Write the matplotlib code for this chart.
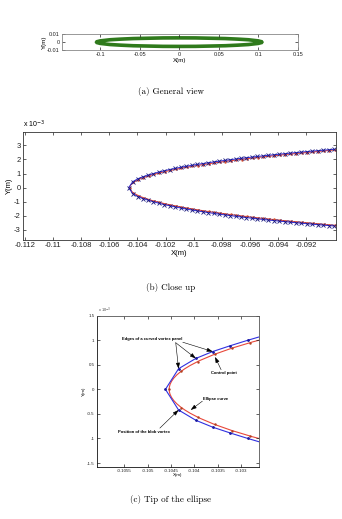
import numpy as np
import matplotlib
matplotlib.use('Agg')
import matplotlib.pyplot as plt
from matplotlib.patches import Ellipse
from matplotlib.ticker import FuncFormatter


# ellipse, metres
ELL_A = 0.10454
ELL_B = 0.00525

# panel edges, upper half (x in m, y in 1e-3 m)
edge_x = [-0.10462, -0.10434, -0.10397, -0.10361, -0.10323, -0.10286, -0.10248, -0.10209,
          -0.10170, -0.10131, -0.10092, -0.10053, -0.10014, -0.09975, -0.09936, -0.09897,
          -0.09858, -0.09819, -0.09780, -0.09741, -0.09702, -0.09663, -0.09624, -0.09585,
          -0.09546, -0.09507, -0.09468, -0.09429, -0.09390, -0.09351, -0.09312, -0.09273,
          -0.09234, -0.09195, -0.09156, -0.09117, -0.09078, -0.09039, -0.09000]
edge_y = [0.0, 0.42, 0.63, 0.77, 0.89, 1.00, 1.106, 1.200,
          1.287, 1.368, 1.443, 1.515, 1.582, 1.647, 1.708, 1.767,
          1.824, 1.877, 1.930, 1.981, 2.030, 2.077, 2.124, 2.168,
          2.212, 2.254, 2.295, 2.335, 2.374, 2.412, 2.450, 2.487,
          2.522, 2.557, 2.591, 2.624, 2.657, 2.688, 2.720]

# control points on the ellipse, upper half
ctrl_x = [-0.10454, -0.10429, -0.10393, -0.10357, -0.10319, -0.10282, -0.10244, -0.10205,
          -0.10166, -0.10127, -0.10088, -0.10049, -0.10010, -0.09971, -0.09932, -0.09893,
          -0.09854, -0.09815, -0.09776, -0.09737, -0.09698, -0.09659, -0.09620, -0.09581,
          -0.09542, -0.09503, -0.09464, -0.09425, -0.09386, -0.09347, -0.09308, -0.09269,
          -0.09230, -0.09191, -0.09152, -0.09113, -0.09074, -0.09035, -0.08996]
ctrl_y = [0.0, 0.37, 0.56, 0.71, 0.84, 0.94, 1.046, 1.136,
          1.220, 1.298, 1.371, 1.439, 1.504, 1.568, 1.628, 1.686,
          1.742, 1.794, 1.847, 1.898, 1.947, 1.994, 2.041, 2.083,
          2.128, 2.171, 2.212, 2.253, 2.293, 2.332, 2.372, 2.410,
          2.446, 2.483, 2.516, 2.551, 2.585, 2.618, 2.652]

a_xticks = [-0.1, -0.05, 0, 0.05, 0.1, 0.15]
a_yticks = [-0.01, 0, 0.01]
b_xticks = [-0.112, -0.11, -0.108, -0.106, -0.104, -0.102, -0.1, -0.098, -0.096, -0.094, -0.092]
b_yticks = [-3, -2, -1, 0, 1, 2, 3]
c_xticks = [-0.1055, -0.105, -0.1045, -0.104, -0.1035, -0.103]
c_yticks = [-1.5, -1, -0.5, 0, 0.5, 1, 1.5]


def full_curve(xs, ys):
    # upper half mirrored into the lower half
    x = np.concatenate([np.array(xs)[::-1], np.array(xs)[1:]])
    y = np.concatenate([np.array(ys)[::-1], -np.array(ys)[1:]]) * 1e-3
    return x, y


def style_axes(ax, fs, col='#333333'):
    for s in ax.spines.values():
        s.set_color(col)
        s.set_linewidth(0.6)
    ax.tick_params(direction='in', length=2, width=0.5, labelsize=fs, colors='#222222',
                   top=True, right=True, pad=1.5)


def main():
    plt.rcParams['font.family'] = ['Liberation Sans', 'DejaVu Sans']
    plt.rcParams['mathtext.fontset'] = 'dejavusans'

    fig = plt.figure(figsize=(3.42, 5.19), dpi=100)

    ex, ey = full_curve(edge_x, edge_y)
    cx, cy = full_curve(ctrl_x, ctrl_y)

    ## (a) general view
    ax1 = fig.add_axes([0.1813, 0.9031, 0.6892, 0.0314])
    ax1.add_patch(Ellipse((0, 0), 2 * ELL_A, 2 * ELL_B, fill=False,
                          edgecolor='#2f7a1c', linewidth=2.6))
    ax1.set_xlim(-0.1484, 0.15)
    ax1.set_ylim(-0.01, 0.01)
    ax1.set_xticks(a_xticks)
    ax1.set_xticklabels(['-0.1', '-0.05', '0', '0.05', '0.1', '0.15'])
    ax1.set_yticks(a_yticks)
    ax1.set_yticklabels(['-0.01', '0', '0.01'])
    style_axes(ax1, 4, '#888888')
    ax1.set_xlabel('X(m)', fontsize=4.5, labelpad=0.5)
    ax1.set_ylabel('Y(m)', fontsize=4.5, labelpad=0.5)

    ## (b) close up
    ax2 = fig.add_axes([0.0664, 0.5376, 0.9161, 0.2087])
    ax2.add_patch(Ellipse((0, 0), 2 * ELL_A, 2 * ELL_B, fill=False,
                          edgecolor='#e8483a', linewidth=0.8))
    ax2.plot(cx, cy, '.', color='#d9502e', markersize=1.5)
    ax2.plot(ex, ey, '-', color='#2a2ad8', linewidth=0.7)
    ax2.plot(ex, ey, 'x', color='#1a1a80', markersize=2.2, markeredgewidth=0.6)
    ax2.set_xlim(-0.11216, -0.08987)
    ax2.set_ylim(-3.71e-3, 3.97e-3)
    ax2.set_xticks(b_xticks)
    ax2.set_xticklabels(['%g' % t for t in b_xticks])
    ax2.set_yticks(np.array(b_yticks) * 1e-3)
    ax2.yaxis.set_major_formatter(FuncFormatter(lambda v, p: '%g' % round(v * 1e3)))
    style_axes(ax2, 5.5)
    ax2.set_xlabel('X(m)', fontsize=5.5, labelpad=1)
    ax2.set_ylabel('Y(m)', fontsize=5.5, labelpad=1)
    ax2.text(0.0, 1.015, r'x 10$^{-3}$', transform=ax2.transAxes, fontsize=5,
             ha='left', va='bottom')

    ## (c) tip of the ellipse
    ax3 = fig.add_axes([0.2827, 0.1008, 0.4746, 0.2909])
    ax3.add_patch(Ellipse((0, 0), 2 * ELL_A, 2 * ELL_B, fill=False,
                          edgecolor='#e8483a', linewidth=0.8))
    ax3.plot(cx, cy, '.', color='#b04020', markersize=1.5)
    ax3.plot(ex, ey, '-', color='#3030e0', linewidth=0.8)
    ax3.plot(ex, ey, '.', color='#1a1aa0', markersize=2)
    ax3.set_xlim(-0.10609, -0.10262)
    ax3.set_ylim(-1.575e-3, 1.5e-3)
    ax3.set_xticks(c_xticks)
    ax3.set_xticklabels(['%g' % t for t in c_xticks])
    ax3.set_yticks(np.array(c_yticks) * 1e-3)
    ax3.yaxis.set_major_formatter(FuncFormatter(lambda v, p: '%g' % (round(v * 1e4) / 10)))
    style_axes(ax3, 3.2, '#555555')
    ax3.spines['left'].set_color('#111111')
    ax3.spines['bottom'].set_color('#111111')
    ax3.set_xlabel('X(m)', fontsize=3.2, labelpad=0.5)
    ax3.set_ylabel('Y(m)', fontsize=3.2, labelpad=0.5)
    ax3.text(0.01, 1.005, r'x 10$^{-3}$', transform=ax3.transAxes, fontsize=2.8,
             ha='left', va='bottom', color='#444444')

    arrow = dict(arrowstyle='-|>,head_length=0.35,head_width=0.12', color='black',
                 linewidth=0.4, shrinkA=0, shrinkB=0)
    tfs = 3.0
    ax3.text(-0.10491, 0.98e-3, 'Edges of a curved vortex panel', fontsize=tfs,
             ha='center', va='bottom', fontweight='bold')
    ax3.annotate('', xy=(edge_x[1], edge_y[1] * 1e-3), xytext=(-0.10440, 0.95e-3), arrowprops=arrow)
    ax3.annotate('', xy=(edge_x[2], edge_y[2] * 1e-3), xytext=(-0.10440, 0.95e-3), arrowprops=arrow)
    ax3.annotate('', xy=(edge_x[3], edge_y[3] * 1e-3), xytext=(-0.10425, 0.96e-3), arrowprops=arrow)

    ax3.text(-0.10337, 0.34e-3, 'Control point', fontsize=tfs, ha='center', va='center',
             fontweight='bold')
    ax3.annotate('', xy=(-0.10356, 0.66e-3), xytext=(-0.10343, 0.40e-3), arrowprops=arrow)

    ax3.text(-0.10381, -0.20e-3, 'Ellipse curve', fontsize=tfs, ha='left', va='center',
             fontweight='bold')
    ax3.annotate('', xy=(-0.10408, -0.42e-3), xytext=(-0.10383, -0.24e-3), arrowprops=arrow)

    ax3.text(-0.10507, -0.86e-3, 'Position of the blob vortex', fontsize=tfs,
             ha='center', va='center', fontweight='bold')
    ax3.annotate('', xy=(edge_x[1], -edge_y[1] * 1e-3), xytext=(-0.10474, -0.79e-3),
                 arrowprops=arrow)

    ## captions
    cap = dict(fontsize=6.5, family='cmr10', ha='center', va='center')
    fig.text(0.5, 1 - 91 / 519, '(a) General view', **cap)
    fig.text(0.5, 1 - 288 / 519, '(b) Close up', **cap)
    fig.text(0.5, 1 - 500 / 519, '(c) Tip of the ellipse', **cap)

    fig.savefig('out.png', dpi=100)


if __name__ == "__main__":
    main()
